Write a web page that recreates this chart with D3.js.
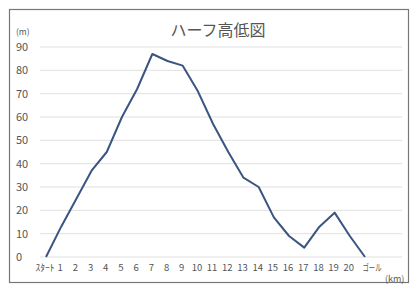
<!DOCTYPE html>
<html>
<head>
<meta charset="utf-8">
<script src="https://cdn.jsdelivr.net/npm/d3@7"></script>
<style>
    body { margin: 0; background: #fff; }
    svg { display: block; }
    text { font-family: "Noto Sans CJK JP", "DejaVu Sans", sans-serif; fill: #555; }
</style>
</head>
<body>
<svg id="chart" width="412" height="285"></svg>
<script>
// course points: start, each km, goal
const categories = ["ｽﾀｰﾄ", "1", "2", "3", "4", "5", "6", "7", "8", "9", "10",
    "11", "12", "13", "14", "15", "16", "17", "18", "19", "20", "ゴール"];
const elevation = [0, 13, 25, 37, 45, 60, 72, 87, 84, 82, 71,
    57, 45, 34, 30, 17, 9, 4, 13, 19, 9, 0];
const yTicks = [0, 10, 20, 30, 40, 50, 60, 70, 80, 90];

const svg = d3.select("#chart");

// frame of the chart box
svg.append("rect")
    .attr("x", 9.5).attr("y", 9.5)
    .attr("width", 399).attr("height", 273)
    .attr("fill", "#fff")
    .attr("stroke", "#777")
    .attr("stroke-width", 1.2);

const x = d3.scalePoint()
    .domain(categories)
    .range([46, 365]);

const y = d3.scaleLinear()
    .domain([0, 90])
    .range([257, 47]);

// horizontal grid
svg.append("g")
    .selectAll("line")
    .data(yTicks)
    .join("line")
    .attr("x1", 40).attr("x2", 402)
    .attr("y1", d => y(d)).attr("y2", d => y(d))
    .attr("stroke", "#e0e0e0")
    .attr("stroke-width", 1);

// y labels
svg.append("g")
    .selectAll("text")
    .data(yTicks)
    .join("text")
    .attr("x", 16)
    .attr("y", d => y(d))
    .attr("dy", "0.36em")
    .attr("font-size", 11)
    .text(d => d);

// x labels
svg.append("g")
    .selectAll("text")
    .data(categories)
    .join("text")
    .attr("x", (d, i) => x(d) + (i === categories.length - 1 ? 7 : -1))
    .attr("y", 271)
    .attr("text-anchor", "middle")
    .attr("font-size", 9.5)
    .each(function (d) {
        if (d.length > 2) {
            d3.select(this).attr("textLength", 19).attr("lengthAdjust", "spacingAndGlyphs");
        }
    })
    .text(d => d);

// unit labels
svg.append("text")
    .attr("x", 16).attr("y", 35)
    .attr("font-size", 8.5)
    .text("(m)");

svg.append("text")
    .attr("x", 385).attr("y", 282)
    .attr("font-size", 9)
    .text("(km)");

// title
svg.append("text")
    .attr("x", 218).attr("y", 36)
    .attr("text-anchor", "middle")
    .attr("font-size", 16)
    .text("ハーフ高低図");

// elevation line
const line = d3.line()
    .x((d, i) => x(categories[i]))
    .y(d => y(d));

svg.append("path")
    .datum(elevation)
    .attr("d", line)
    .attr("fill", "none")
    .attr("stroke", "#3a5580")
    .attr("stroke-width", 2)
    .attr("stroke-linejoin", "round");
</script>
</body>
</html>
